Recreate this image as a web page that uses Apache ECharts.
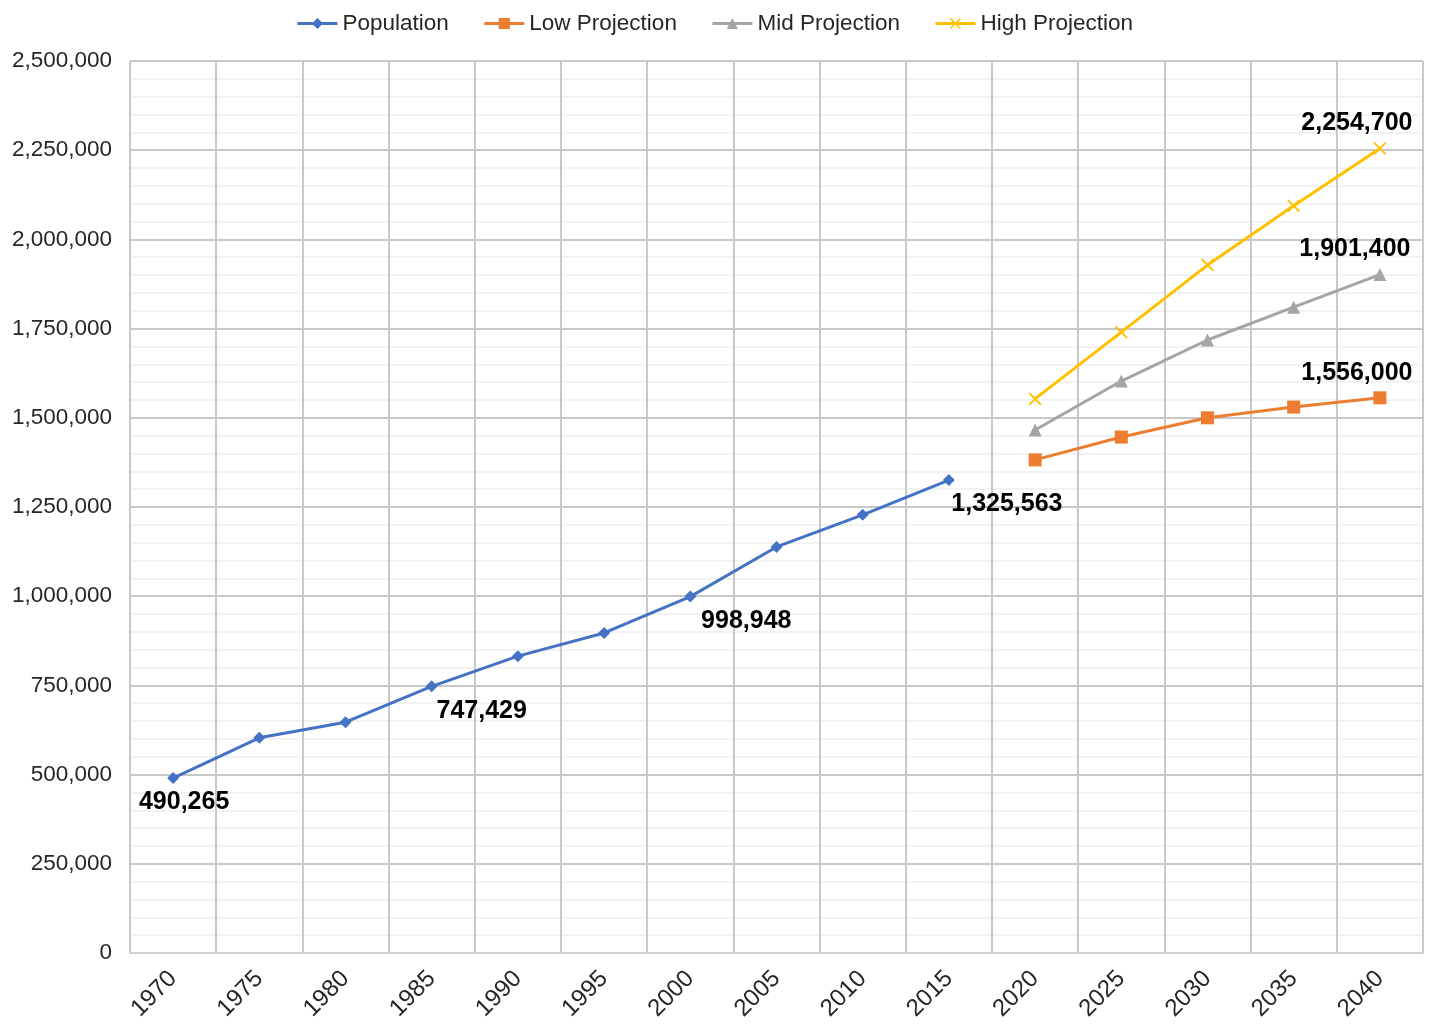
<!DOCTYPE html>
<html><head><meta charset="utf-8">
<script src="https://cdn.jsdelivr.net/npm/echarts@6/dist/echarts.min.js"></script>
<style>html,body{margin:0;padding:0;background:#fff}#c{width:1429px;height:1028px}</style>
</head><body><div id="c"></div>
<script>
const years = ['1970','1975','1980','1985','1990','1995','2000','2005','2010','2015','2020','2025','2030','2035','2040'];
const population = [490265, 603000, 647000, 747429, 832000, 897000, 998948, 1138000, 1228000, 1325563, null, null, null, null, null];
const lowProj  = [null, null, null, null, null, null, null, null, null, null, 1382000, 1446000, 1500000, 1530000, 1556000];
const midProj  = [null, null, null, null, null, null, null, null, null, null, 1466000, 1603000, 1718000, 1810000, 1901400];
const highProj = [null, null, null, null, null, null, null, null, null, null, 1553000, 1740000, 1928000, 2094000, 2254700];
const popLabelIdx = [0, 3, 6, 9];
const projLabelIdx = [14];

const fmt = v => Number(v).toLocaleString('en-US');
const labelFont = {fontFamily:'Liberation Sans, Arial', fontSize:25, fontWeight:'bold', color:'#000'};
const popOffsets = {0:[11,0],3:[50,0],6:[56,0],9:[58,0]};

function withLabels(arr, idxs, pos, offsets) {
  return arr.map((v, i) => {
    if (v === null) return null;
    if (idxs.indexOf(i) < 0) return v;
    return {value: v, label: Object.assign({show:true, position:pos, distance:6,
      offset: offsets(i), formatter: p => fmt(p.value)}, labelFont)};
  });
}
const xPath = 'path://M0,1L1,0L5,4L9,0L10,1L6,5L10,9L9,10L5,6L1,10L0,9L4,5Z';

const chart = echarts.init(document.getElementById('c'));
chart.setOption({
  animation:false,
  textStyle:{fontFamily:'Liberation Sans, Arial'},
  legend:{top:7, left:'center', itemWidth:40, itemHeight:14, itemGap:34,
    lineStyle:{width:3},
    textStyle:{fontSize:22.5, color:'#262626', fontFamily:'Liberation Sans, Arial'},
    data:['Population','Low Projection','Mid Projection','High Projection']},
  grid:{left:130, right:6, top:61, bottom:75, containLabel:false},
  xAxis:{type:'category', data:years, boundaryGap:true,
    axisLine:{lineStyle:{color:'#d0d0d0', width:2}},
    axisTick:{show:false},
    splitLine:{show:true, lineStyle:{color:'#c8c8c8', width:2}},
    axisLabel:{rotate:45, fontSize:24, color:'#262626', margin:22, interval:0}},
  yAxis:{type:'value', min:0, max:2500000, interval:250000,
    axisLine:{show:false}, axisTick:{show:false},
    axisLabel:{fontSize:22.5, color:'#262626', margin:18, formatter:v=>fmt(v)},
    splitLine:{lineStyle:{color:'#c8c8c8', width:2}},
    minorTick:{show:false, splitNumber:5},
    minorSplitLine:{show:true, lineStyle:{color:'#eeeeee', width:1.5}}},
  series:[
    {name:'Population', type:'line', data: withLabels(population, popLabelIdx, 'bottom', i=>popOffsets[i]),
      symbol:'diamond', symbolSize:12, showAllSymbol:true,
      lineStyle:{color:'#4472C4', width:3}, itemStyle:{color:'#4472C4'}},
    {name:'Low Projection', type:'line', data: withLabels(lowProj, projLabelIdx, 'top', i=>[-23,0]),
      symbol:'rect', symbolSize:13,
      lineStyle:{color:'#ED7D31', width:3}, itemStyle:{color:'#ED7D31'}},
    {name:'Mid Projection', type:'line', data: withLabels(midProj, projLabelIdx, 'top', i=>[-25,0]),
      symbol:'triangle', symbolSize:13,
      lineStyle:{color:'#A5A5A5', width:3}, itemStyle:{color:'#A5A5A5'}},
    {name:'High Projection', type:'line', data: withLabels(highProj, projLabelIdx, 'top', i=>[-23,0]),
      symbol:xPath, symbolSize:13,
      lineStyle:{color:'#FFC000', width:3}, itemStyle:{color:'#FFC000'}}
  ]
});
</script></body></html>
